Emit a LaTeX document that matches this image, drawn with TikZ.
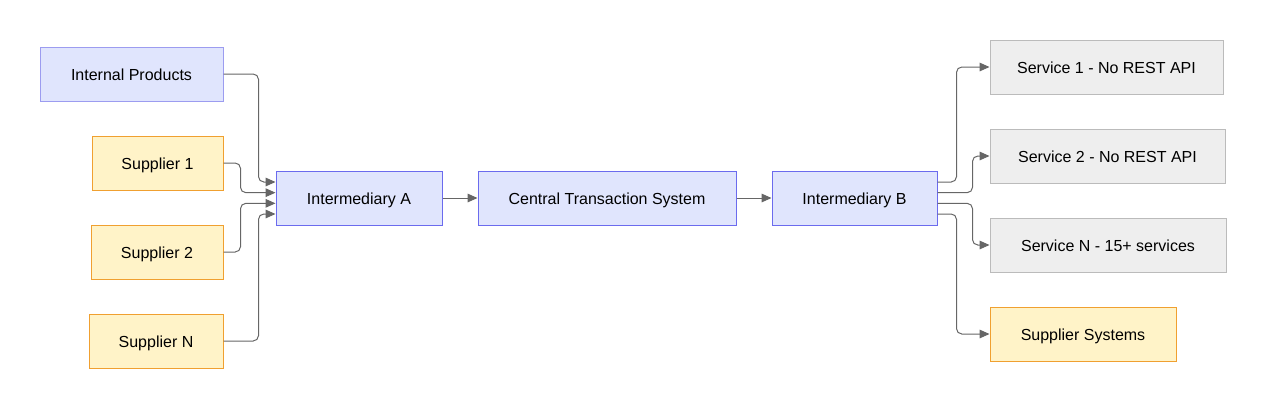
\documentclass[tikz,border=0pt]{standalone}
\usepackage{fontspec}
\setmainfont{Liberation Sans}
\usetikzlibrary{arrows.meta}
\definecolor{bluefill}{HTML}{E0E5FD}
\definecolor{bluedraw}{HTML}{6B6BEE}
\definecolor{bluelight}{HTML}{9C9CF0}
\definecolor{yelfill}{HTML}{FFF3C8}
\definecolor{yeldraw}{HTML}{F0A030}
\definecolor{grayfill}{HTML}{EEEEEE}
\definecolor{graydraw}{HTML}{BBBBBB}
\definecolor{edgecol}{HTML}{666666}
\begin{document}
\begin{tikzpicture}[x=0.75pt,y=-0.75pt,
  box/.style={rectangle,line width=0.75pt,minimum height=40.5pt,inner sep=0pt,
    text height=9pt,text depth=0pt,
    font=\fontsize{12}{14}\selectfont,text=black},
  bluebox/.style={box,fill=bluefill,draw=bluedraw},
  bluelightbox/.style={box,fill=bluefill,draw=bluelight},
  yelbox/.style={box,fill=yelfill,draw=yeldraw},
  graybox/.style={box,fill=grayfill,draw=graydraw},
  edge/.style={draw=edgecol,line width=0.75pt,rounded corners=4pt,
    -{Triangle[length=7.5pt,width=6.5pt]}}]
\useasboundingbox (0,0) rectangle (1267,408);
\node[bluelightbox,minimum width={183*0.75pt}] (ip) at (131.5,74) {Internal Products};
\node[yelbox,minimum width={131*0.75pt}] (s1) at (157.5,163) {Supplier 1};
\node[yelbox,minimum width={132*0.75pt}] (s2) at (157,252) {Supplier 2};
\node[yelbox,minimum width={134*0.75pt}] (sn) at (156,341) {Supplier N};
\node[bluebox,minimum width={166*0.75pt}] (A) at (359,198) {Intermediary A};
\node[bluebox,minimum width={258*0.75pt}] (C) at (607,198) {Central Transaction System};
\node[bluebox,minimum width={165*0.75pt}] (B) at (854.5,198) {Intermediary B};
\node[graybox,minimum width={233*0.75pt}] (v1) at (1106.5,67) {Service 1 - No REST API};
\node[graybox,minimum width={235*0.75pt}] (v2) at (1107.5,156) {Service 2 - No REST API};
\node[graybox,minimum width={236*0.75pt}] (vn) at (1108,245) {Service N - 15+ services};
\node[yelbox,minimum width={186*0.75pt}] (ss) at (1083,334) {Supplier Systems};

\draw[edge] (ip.east) -- ++(35,0) |- ([yshift=12pt]A.west);
\draw[edge] (s1.east) -- ++(17,0) |- ([yshift=4pt]A.west);
\draw[edge] (s2.east) -- ++(17,0) |- ([yshift=-4pt]A.west);
\draw[edge] (sn.east) -- ++(35,0) |- ([yshift=-12pt]A.west);
\draw[edge] (A.east) -- (C.west);
\draw[edge] (C.east) -- (B.west);
\draw[edge] ([yshift=12pt]B.east) -- ++(19,0) |- (v1.west);
\draw[edge] ([yshift=4pt]B.east) -- ++(35,0) |- (v2.west);
\draw[edge] ([yshift=-4pt]B.east) -- ++(35,0) |- (vn.west);
\draw[edge] ([yshift=-12pt]B.east) -- ++(19,0) |- (ss.west);
\end{tikzpicture}
\end{document}
